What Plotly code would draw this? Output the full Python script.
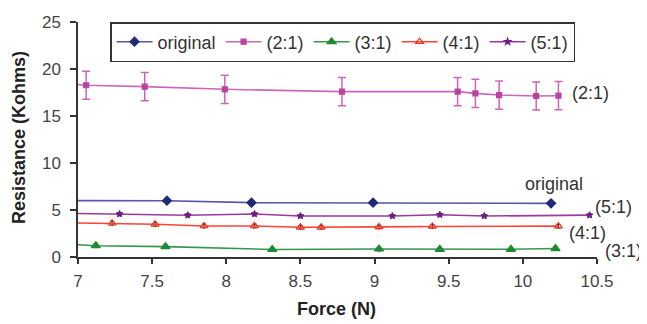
import plotly.graph_objects as go

# ---- data (leading point at x=6.9 lies left of the axis and is clipped) ----
orig_x = [6.9, 7.60, 8.17, 8.99, 10.19]
orig_y = [6.0, 5.99, 5.78, 5.78, 5.71]
orig_err = [0, 0.2, 0.2, 0.2, 0.2]

r21_x = [6.9, 7.055, 7.45, 7.99, 8.78, 9.56, 9.68, 9.84, 10.09, 10.24]
r21_y = [18.5, 18.27, 18.12, 17.84, 17.59, 17.59, 17.41, 17.23, 17.13, 17.16]
r21_err = [0, 1.5, 1.5, 1.5, 1.5, 1.5, 1.5, 1.5, 1.5, 1.5]

r31_x = [6.9, 7.12, 7.59, 8.31, 9.03, 9.44, 9.92, 10.22]
r31_y = [1.4, 1.2, 1.1, 0.8, 0.85, 0.82, 0.82, 0.9]
r31_err = [0, 0.2, 0.2, 0.2, 0.2, 0.2, 0.2, 0.2]

r41_x = [6.9, 7.23, 7.52, 7.85, 8.19, 8.50, 8.64, 9.03, 9.39, 10.24]
r41_y = [3.65, 3.59, 3.48, 3.30, 3.30, 3.16, 3.16, 3.2, 3.25, 3.28]
r41_err = [0, 0.2, 0.2, 0.2, 0.2, 0.2, 0.2, 0.2, 0.2, 0.2]

r51_x = [6.9, 7.28, 7.74, 8.19, 8.50, 9.12, 9.44, 9.74, 10.45]
r51_y = [4.65, 4.57, 4.44, 4.57, 4.36, 4.36, 4.5, 4.36, 4.45]
r51_err = [0, 0.15, 0.15, 0.15, 0.15, 0.15, 0.15, 0.15, 0.15]

series_names = ["original", "(2:1)", "(3:1)", "(4:1)", "(5:1)"]
x_ticks = [7, 7.5, 8, 8.5, 9, 9.5, 10, 10.5]
y_ticks = [0, 5, 10, 15, 20, 25]

# end labels: (text, x in Force units, y in kOhms)
label_text = ["original", "(2:1)", "(5:1)", "(4:1)", "(3:1)"]
label_x = [10.0, 10.32, 10.47, 10.30, 10.54]
label_y = [7.77, 17.45, 5.3, 2.55, 0.64]

x_title = "Force (N)"
y_title = "Resistance (Kohms)"

FONT = "Liberation Sans, Arial, sans-serif"
XMIN, XMAX = 7, 10.5

fig = go.Figure()

def add(name, xs, ys, errs, lcolor, mcolor, symbol, msize, ecolor, ethick, ewidth):
    fig.add_trace(go.Scatter(
        x=xs, y=ys, name=name, mode="lines+markers",
        line=dict(color=lcolor, width=1.6),
        marker=dict(color=mcolor, symbol=symbol, size=msize,
                    line=dict(color=mcolor, width=1.2)),
        error_y=dict(type="data", array=errs, visible=True,
                     color=ecolor, thickness=ethick, width=ewidth),
        cliponaxis=True,
    ))

add(series_names[0], orig_x, orig_y, orig_err, "#5555AA", "#1E2A78", "diamond", 7, "#222222", 1, 2)
add(series_names[1], r21_x, r21_y, r21_err, "#CC66BB", "#B8449F", "square", 5, "#CC66BB", 1.5, 4)
add(series_names[2], r31_x, r31_y, r31_err, "#33994A", "#1F8A33", "triangle-up", 8, "#222222", 1, 2)
add(series_names[3], r41_x, r41_y, r41_err, "#FF4433", "#EE3322", "triangle-up-open", 7, "#222222", 1, 2)
add(series_names[4], r51_x, r51_y, r51_err, "#9A3A9E", "#6E2080", "star", 5, "#222222", 1, 2)

for t, lx, ly in zip(label_text, label_x, label_y):
    fig.add_annotation(x=(lx - XMIN) / (XMAX - XMIN), y=ly, xref="paper", yref="y", text=t,
                       showarrow=False, xanchor="left", yanchor="middle",
                       font=dict(family=FONT, size=18, color="#333333"))

# axis titles
fig.add_annotation(x=0.499, y=-0.221, xref="paper", yref="paper", text="<b>" + x_title + "</b>",
                   showarrow=False, xanchor="center", yanchor="middle",
                   font=dict(family=FONT, size=18, color="#222222"))
fig.add_annotation(x=-0.114, y=0.51, xref="paper", yref="paper", text="<b>" + y_title + "</b>",
                   showarrow=False, xanchor="center", yanchor="middle", textangle=-90,
                   font=dict(family=FONT, size=18, color="#222222"))

fig.update_layout(
    template="none",
    width=647, height=324,
    margin=dict(l=70, r=58, t=14, b=75),
    paper_bgcolor="white", plot_bgcolor="white",
    font=dict(family=FONT, color="#333333"),
    showlegend=True,
    legend=dict(orientation="h", x=0.0617, y=1.0, xanchor="left", yanchor="top",
                bgcolor="white", bordercolor="#333333", borderwidth=1.5,
                font=dict(family=FONT, size=18, color="#333333"),
                itemwidth=36, tracegroupgap=0),
    xaxis=dict(range=[XMIN, XMAX], tickvals=x_ticks, ticktext=[str(v) for v in x_ticks],
               automargin=False,
               showgrid=False, zeroline=False, showline=True, linecolor="#333333", linewidth=1.5,
               ticks="outside", ticklen=5, tickcolor="#333333", tickwidth=1.5,
               tickfont=dict(family=FONT, size=17, color="#444444"),
               ticklabelstandoff=3),
    yaxis=dict(range=[0, 25], tickvals=y_ticks, automargin=False,
               showgrid=False, zeroline=False, showline=True, linecolor="#333333", linewidth=1.5,
               ticks="outside", ticklen=6, tickcolor="#333333", tickwidth=1.5,
               tickfont=dict(family=FONT, size=17, color="#444444"),
               ticklabelstandoff=6),
)

fig.write_html("out.html")
